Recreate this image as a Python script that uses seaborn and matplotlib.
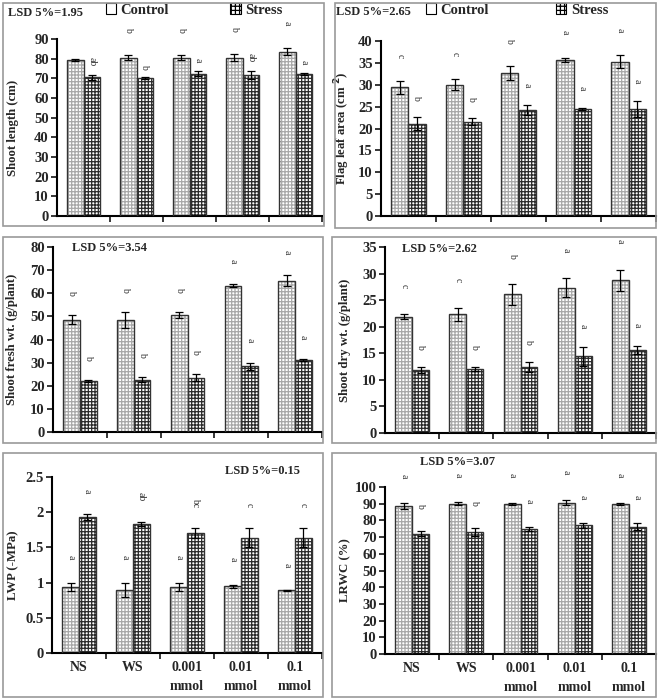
import matplotlib
matplotlib.use("Agg")
import matplotlib.pyplot as plt
import matplotlib.transforms as mtransforms
from matplotlib.patches import Patch, Rectangle
import seaborn as sns
import pandas as pd
import numpy as np

sns.set_style("ticks")
plt.rcParams["font.family"] = ["Liberation Serif", "DejaVu Serif"]
plt.rcParams["font.weight"] = "bold"
plt.rcParams["hatch.linewidth"] = 0.9

treatments = ["NS", "WS", "0.001\nmmol", "0.01\nmmol", "0.1\nmmol"]
groups = ["Control", "Stress"]

# shoot length (cm)
sl_ctrl = [79.3, 80.5, 80.5, 80.5, 83.5]
sl_ctrl_err = [0.5, 1.3, 1.3, 1.7, 1.8]
sl_strs = [70.5, 70.0, 72.3, 71.5, 72.3]
sl_strs_err = [1.2, 0.5, 1.3, 2.0, 0.4]
sl_ctrl_let = ["", "b", "b", "b", "a"]
sl_strs_let = ["ab", "b", "a", "ab", "a"]

# flag leaf area (cm2)
fl_ctrl = [29.4, 30.0, 32.7, 35.7, 35.3]
fl_ctrl_err = [1.4, 1.3, 1.6, 0.5, 1.4]
fl_strs = [21.1, 21.6, 24.2, 24.5, 24.5]
fl_strs_err = [1.5, 0.8, 1.1, 0.2, 1.8]
fl_ctrl_let = ["c", "c", "b", "a", "a"]
fl_strs_let = ["b", "b", "a", "a", "a"]

# shoot fresh wt (g/plant)
fw_ctrl = [48.5, 48.5, 50.5, 63.3, 65.5]
fw_ctrl_err = [2.0, 3.5, 1.3, 0.7, 2.5]
fw_strs = [22.0, 22.7, 23.5, 28.5, 31.0]
fw_strs_err = [0.3, 1.2, 1.4, 1.5, 0.4]
fw_ctrl_let = ["b", "b", "b", "a", "a"]
fw_strs_let = ["b", "b", "b", "a", "a"]

# shoot dry wt (g/plant)
dw_ctrl = [21.9, 22.3, 26.1, 27.3, 28.7]
dw_ctrl_err = [0.4, 1.2, 2.0, 1.8, 2.0]
dw_strs = [11.8, 12.0, 12.4, 14.4, 15.6]
dw_strs_err = [0.6, 0.4, 0.9, 1.7, 0.7]
dw_ctrl_let = ["c", "c", "b", "a", "a"]
dw_strs_let = ["b", "b", "b", "a", "a"]

# leaf water potential (-MPa)
lwp_ctrl = [0.94, 0.90, 0.94, 0.95, 0.89]
lwp_ctrl_err = [0.06, 0.10, 0.06, 0.02, 0.005]
lwp_strs = [1.93, 1.83, 1.70, 1.64, 1.64]
lwp_strs_err = [0.04, 0.03, 0.07, 0.13, 0.13]
lwp_ctrl_let = ["a", "a", "a", "a", "a"]
lwp_strs_let = ["a", "ab", "bc", "c", "c"]

# relative water content (%)
rwc_ctrl = [88.5, 90.0, 90.0, 90.7, 90.0]
rwc_ctrl_err = [1.8, 1.0, 0.5, 1.7, 0.5]
rwc_strs = [72.0, 73.0, 75.0, 77.0, 76.3]
rwc_strs_err = [1.5, 2.2, 1.3, 1.6, 2.3]
rwc_ctrl_let = ["a", "a", "a", "a", "a"]
rwc_strs_let = ["b", "b", "a", "a", "a"]

W, H = 658, 699
fig = plt.figure(figsize=(W / 100, H / 100), dpi=100)


def px_axes(x0, x1, y_top, y_bot):
    return fig.add_axes([x0 / W, 1 - y_bot / H, (x1 - x0) / W, (y_bot - y_top) / H])


# gray frames round each panel
for (x0, y0, x1, y1) in [(3, 3, 324, 226), (335, 3, 656, 228), (3, 237, 323, 443),
                         (332, 237, 656, 443), (3, 453, 323, 697), (332, 453, 656, 697)]:
    fig.add_artist(Rectangle((x0 / W, 1 - y1 / H), (x1 - x0) / W, (y1 - y0) / H,
                             transform=fig.transFigure, fill=False,
                             ec="#9a9a9a", lw=1.2))

hatch_style = [dict(hatch="+++++", color="#a8a8a8"),
               dict(hatch="+++++", color="#2a2a2a")]


def draw_panel(ax, ctrl, ctrl_err, strs, strs_err, ctrl_let, strs_let,
               ymax, ystep, ylabel, ylabel_x, lsd, lsd_xy, offs, xlabels):
    df = pd.DataFrame({"treatment": treatments * 2,
                       "group": ["Control"] * 5 + ["Stress"] * 5,
                       "value": ctrl + strs})
    sns.barplot(data=df, x="treatment", y="value", hue="group",
                order=treatments, hue_order=groups, errorbar=None,
                width=0.62, palette=["white", "white"], saturation=1,
                legend=False, ax=ax)
    errs = [ctrl_err, strs_err]
    lets = [ctrl_let, strs_let]
    for k, cont in enumerate(ax.containers[:2]):
        for i, bar in enumerate(cont):
            bar.set_facecolor("white")
            bar.set_edgecolor(hatch_style[k]["color"])
            bar.set_hatch(hatch_style[k]["hatch"])
            bar.set_linewidth(0)
            ax.add_patch(Rectangle((bar.get_x(), bar.get_y()), bar.get_width(),
                                   bar.get_height(), fill=False,
                                   ec="#333333", lw=1.0, zorder=3))
            xc = bar.get_x() + bar.get_width() / 2
            h = bar.get_height()
            ax.errorbar(xc, h, yerr=errs[k][i], fmt="none", ecolor="black",
                        elinewidth=0.9, capsize=3.2, capthick=0.9, zorder=4)
            if lets[k][i]:
                ax.text(xc, h + errs[k][i] + offs[k] * ymax, lets[k][i],
                        rotation=270, ha="center", va="bottom", fontsize=7,
                        fontweight="normal", color="#333333", clip_on=False)
    ax.set_xlim(-0.5, 4.5)
    ax.set_ylim(0, ymax)
    yt = np.arange(0, ymax + ystep / 2, ystep)
    ax.set_yticks(yt)
    ax.set_yticklabels(["%g" % v for v in yt], fontsize=10.5, fontweight="bold")
    ax.set_xticks(np.arange(5) + 0.5)
    ax.set_xticklabels([])
    ax.set_xticks(np.arange(5), minor=True)
    if xlabels:
        ax.set_xticklabels(treatments, minor=True, fontsize=10, fontweight="bold",
                           linespacing=1.6)
    ax.tick_params(axis="x", which="minor", length=0, pad=6)
    ax.tick_params(axis="x", which="major", length=4, width=1.3, direction="out")
    ax.tick_params(axis="y", length=4, width=1.3, direction="out", pad=2)
    ax.set_xlabel("")
    ax.set_ylabel(ylabel, fontsize=9.2, fontweight="bold")
    ax.yaxis.set_label_coords(ylabel_x / W, 0.5,
                              transform=mtransforms.blended_transform_factory(
                                  fig.transFigure, ax.transAxes))
    for s in ["top", "right"]:
        ax.spines[s].set_visible(False)
    for s in ["left", "bottom"]:
        ax.spines[s].set_linewidth(1.5)
        ax.spines[s].set_color("black")
    fig.text(lsd_xy[0] / W, 1 - lsd_xy[1] / H, "LSD 5%=" + lsd, fontsize=9,
             fontweight="bold", ha="left", va="center")


legend_handles = [Patch(facecolor="white", edgecolor="black", lw=0.8),
                  Patch(facecolor="white", edgecolor="black", hatch="++++", lw=0.8)]


def add_legend(ax, x0, gap):
    ax.legend(legend_handles, groups, ncol=2, loc="center left",
              bbox_to_anchor=(x0 / W, 1 - 10 / H), bbox_transform=fig.transFigure,
              frameon=False, handlelength=0.7, handleheight=0.7,
              handletextpad=0.3, columnspacing=gap, borderpad=0, borderaxespad=0,
              prop={"family": "Liberation Serif", "weight": "bold", "size": 10.5})


ax1 = px_axes(57, 322, 39, 216)
draw_panel(ax1, sl_ctrl, sl_ctrl_err, sl_strs, sl_strs_err, sl_ctrl_let, sl_strs_let,
           90, 10, "Shoot length (cm)", 19, "1.95", (8, 13), (0.13, 0.05), False)
add_legend(ax1, 106, 4.2)

ax2 = px_axes(381, 656, 41, 216)
draw_panel(ax2, fl_ctrl, fl_ctrl_err, fl_strs, fl_strs_err, fl_ctrl_let, fl_strs_let,
           40, 5, "Flag leaf area (cm $^{\\mathbf{2}}$)", 352, "2.65", (336, 12),
           (0.13, 0.1), False)
add_legend(ax2, 426, 4.6)

ax3 = px_axes(53, 322, 247, 432)
draw_panel(ax3, fw_ctrl, fw_ctrl_err, fw_strs, fw_strs_err, fw_ctrl_let, fw_strs_let,
           80, 10, "Shoot fresh wt. (g/plant)", 18, "3.54", (72, 248), (0.11, 0.11), False)

ax4 = px_axes(385, 656, 247, 433)
draw_panel(ax4, dw_ctrl, dw_ctrl_err, dw_strs, dw_strs_err, dw_ctrl_let, dw_strs_let,
           35, 5, "Shoot dry wt. (g/plant)", 351, "2.62", (402, 249), (0.14, 0.1), False)

ax5 = px_axes(52, 322, 477, 653)
draw_panel(ax5, lwp_ctrl, lwp_ctrl_err, lwp_strs, lwp_strs_err, lwp_ctrl_let, lwp_strs_let,
           2.5, 0.5, "LWP (-MPa)", 19, "0.15", (225, 471), (0.13, 0.12), True)

ax6 = px_axes(385, 656, 487, 654)
draw_panel(ax6, rwc_ctrl, rwc_ctrl_err, rwc_strs, rwc_strs_err, rwc_ctrl_let, rwc_strs_let,
           100, 10, "LRWC (%)", 351, "3.07", (420, 462), (0.15, 0.14), True)

fig.savefig("out.png", dpi=100, facecolor="white")
